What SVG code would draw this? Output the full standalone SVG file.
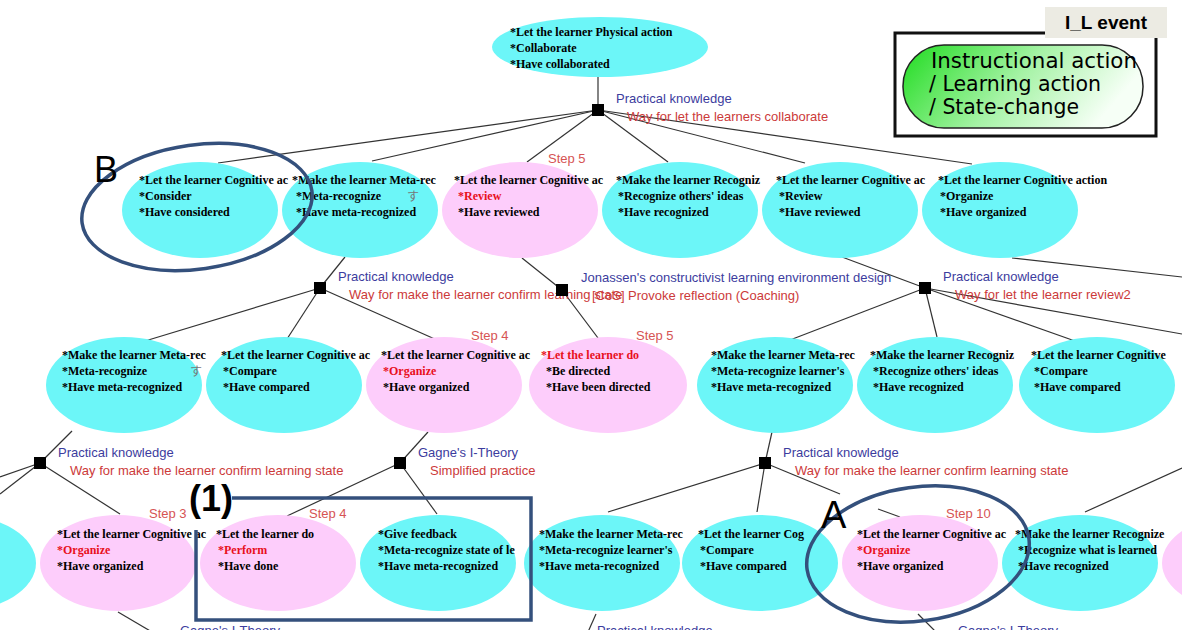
<svg xmlns="http://www.w3.org/2000/svg" width="1182" height="630" viewBox="0 0 1182 630">
  <defs>
    <linearGradient id="pillFill" x1="0" y1="0" x2="1" y2="0.3">
      <stop offset="0" stop-color="#1fdc1f"/>
      <stop offset="0.55" stop-color="#a6f3a6"/>
      <stop offset="1" stop-color="#f6fff6"/>
    </linearGradient>
    <style>
      .cy { fill: #6cf6f8; }
      .pk { fill: #fdcdfb; }
      .nt { font-family: "Liberation Serif", serif; font-weight: bold; font-size: 12px; fill: #000; }
      .hl { fill: #e8101c; }
      .gh { font-family: "Noto Sans CJK JP", sans-serif; font-size: 12px; fill: #777; }
      .jb { font-family: "Liberation Sans", sans-serif; font-size: 13px; fill: #3c3c9e; }
      .jr { font-family: "Liberation Sans", sans-serif; font-size: 13px; fill: #cc3a3a; }
      .st { font-family: "Liberation Sans", sans-serif; font-size: 13px; fill: #d65454; }
      .ln { stroke: #333; stroke-width: 1.2; fill: none; }
      .sq { fill: #000; }
      .mk { stroke: #34507c; stroke-width: 3.5; fill: none; }
      .big { font-family: "Liberation Sans", sans-serif; fill: #000; }
      .lg { font-family: "DejaVu Sans", sans-serif; font-size: 21px; fill: #000; }
    </style>
  </defs>

  <rect width="1182" height="630" fill="#fff"/>

  <!-- connectors -->
  <g id="connectors" class="ln">
    <line x1="598" y1="77" x2="598" y2="110"/>
    <line x1="598" y1="110" x2="218" y2="163"/>
    <line x1="598" y1="110" x2="372" y2="161"/>
    <line x1="598" y1="110" x2="527" y2="162"/>
    <line x1="598" y1="110" x2="668" y2="162"/>
    <line x1="598" y1="110" x2="805" y2="163"/>
    <line x1="598" y1="110" x2="972" y2="164"/>

    <line x1="345" y1="257" x2="320" y2="288"/>
    <line x1="320" y1="288" x2="145" y2="341"/>
    <line x1="320" y1="288" x2="287" y2="339"/>
    <line x1="320" y1="288" x2="437" y2="340"/>
    <line x1="522" y1="258" x2="562" y2="290"/>
    <line x1="562" y1="290" x2="598" y2="338"/>
    <line x1="842" y1="257" x2="925" y2="288"/>
    <line x1="925" y1="288" x2="1182" y2="334"/>
    <line x1="925" y1="288" x2="790" y2="340"/>
    <line x1="925" y1="288" x2="937" y2="337"/>
    <line x1="925" y1="288" x2="1075" y2="341"/>
    <line x1="1012" y1="258" x2="1182" y2="277"/>

    <line x1="40" y1="463" x2="72" y2="431"/>
    <line x1="40" y1="463" x2="0" y2="477"/>
    <line x1="40" y1="463" x2="0" y2="494"/>
    <line x1="40" y1="463" x2="120" y2="514"/>
    <line x1="400" y1="463" x2="428" y2="432"/>
    <line x1="400" y1="463" x2="287" y2="516"/>
    <line x1="400" y1="463" x2="437" y2="514"/>
    <line x1="765" y1="463" x2="772" y2="432"/>
    <line x1="765" y1="463" x2="608" y2="512"/>
    <line x1="765" y1="463" x2="757" y2="512"/>
    <line x1="765" y1="463" x2="840" y2="494"/>
    <line x1="878" y1="509" x2="900" y2="517"/>
    <line x1="1085" y1="512" x2="1182" y2="468"/>

    <line x1="118" y1="612" x2="152" y2="632"/>
    <line x1="596" y1="614" x2="588" y2="632"/>
    <line x1="918" y1="614" x2="936" y2="632"/>
  </g>

  <!-- top node -->
  <g id="n-top">
    <ellipse class="cy" cx="600" cy="47" rx="108" ry="30"/>
    <text class="nt" x="510" y="36">*Let the learner Physical action</text>
    <text class="nt" x="510" y="52">*Collaborate</text>
    <text class="nt" x="510" y="68">*Have collaborated</text>
  </g>

  <!-- row 1 (drawn right to left so overflowing first lines stay visible) -->
  <g id="n1f">
    <ellipse class="cy" cx="1000" cy="210" rx="78" ry="48"/>
    <text class="nt" x="938" y="184">*Let the learner Cognitive action</text>
    <text class="nt" x="940" y="200">*Organize</text>
    <text class="nt" x="940" y="216">*Have organized</text>
  </g>
  <g id="n1e">
    <ellipse class="cy" cx="840" cy="210" rx="78" ry="48"/>
    <text class="nt" x="776" y="184">*Let the learner Cognitive ac</text>
    <text class="nt" x="779" y="200">*Review</text>
    <text class="nt" x="779" y="216">*Have reviewed</text>
  </g>
  <g id="n1d">
    <ellipse class="cy" cx="680" cy="210" rx="78" ry="48"/>
    <text class="nt" x="616" y="184">*Make the learner Recogniz</text>
    <text class="nt" x="618" y="200">*Recognize others' ideas</text>
    <text class="nt" x="618" y="216">*Have recognized</text>
  </g>
  <g id="n1c">
    <ellipse class="pk" cx="520" cy="210" rx="78" ry="48"/>
    <text class="nt" x="454" y="184">*Let the learner Cognitive ac</text>
    <text class="nt hl" x="458" y="200">*Review</text>
    <text class="nt" x="458" y="216">*Have reviewed</text>
  </g>
  <g id="n1b">
    <ellipse class="cy" cx="360" cy="210" rx="78" ry="48"/>
    <text class="nt" x="292" y="184">*Make the learner Meta-rec</text>
    <text class="nt" x="296" y="200">*Meta-recognize</text>
    <text class="nt" x="296" y="216">*Have meta-recognized</text>
    <text class="gh" x="407" y="201">す</text>
  </g>
  <g id="n1a">
    <ellipse class="cy" cx="200" cy="210" rx="78" ry="48"/>
    <text class="nt" x="139" y="184">*Let the learner Cognitive ac</text>
    <text class="nt" x="139" y="200">*Consider</text>
    <text class="nt" x="139" y="216">*Have considered</text>
  </g>

  <!-- row 2 -->
  <g id="n2g">
    <ellipse class="cy" cx="1097" cy="385" rx="78" ry="48"/>
    <text class="nt" x="1031" y="359">*Let the learner Cognitive</text>
    <text class="nt" x="1034" y="375">*Compare</text>
    <text class="nt" x="1034" y="391">*Have compared</text>
  </g>
  <g id="n2f">
    <ellipse class="cy" cx="935" cy="385" rx="78" ry="48"/>
    <text class="nt" x="870" y="359">*Make the learner Recogniz</text>
    <text class="nt" x="873" y="375">*Recognize others' ideas</text>
    <text class="nt" x="873" y="391">*Have recognized</text>
  </g>
  <g id="n2e">
    <ellipse class="cy" cx="775" cy="385" rx="78" ry="48"/>
    <text class="nt" x="711" y="359">*Make the learner Meta-rec</text>
    <text class="nt" x="711" y="375">*Meta-recognize learner's</text>
    <text class="nt" x="711" y="391">*Have meta-recognized</text>
  </g>
  <g id="n2d">
    <ellipse class="pk" cx="608" cy="385" rx="79" ry="48"/>
    <text class="nt hl" x="541" y="359">*Let the learner do</text>
    <text class="nt" x="546" y="375">*Be directed</text>
    <text class="nt" x="546" y="391">*Have been directed</text>
  </g>
  <g id="n2c">
    <ellipse class="pk" cx="444" cy="385" rx="78" ry="48"/>
    <text class="nt" x="381" y="359">*Let the learner Cognitive ac</text>
    <text class="nt hl" x="383" y="375">*Organize</text>
    <text class="nt" x="383" y="391">*Have organized</text>
  </g>
  <g id="n2b">
    <ellipse class="cy" cx="284" cy="385" rx="78" ry="48"/>
    <text class="nt" x="221" y="359">*Let the learner Cognitive ac</text>
    <text class="nt" x="223" y="375">*Compare</text>
    <text class="nt" x="223" y="391">*Have compared</text>
  </g>
  <g id="n2a">
    <ellipse class="cy" cx="124" cy="385" rx="78" ry="48"/>
    <text class="nt" x="62" y="359">*Make the learner Meta-rec</text>
    <text class="nt" x="62" y="375">*Meta-recognize</text>
    <text class="nt" x="62" y="391">*Have meta-recognized</text>
    <text class="gh" x="190" y="376">す</text>
  </g>

  <!-- row 3 -->
  <g id="n3h">
    <ellipse class="pk" cx="1240" cy="563" rx="78" ry="48"/>
  </g>
  <g id="n3g">
    <ellipse class="cy" cx="1080" cy="563" rx="78" ry="48"/>
    <text class="nt" x="1015" y="538">*Make the learner Recognize</text>
    <text class="nt" x="1018" y="554">*Recognize what is learned</text>
    <text class="nt" x="1018" y="570">*Have recognized</text>
  </g>
  <g id="n3f">
    <ellipse class="pk" cx="920" cy="563" rx="78" ry="48"/>
    <text class="nt" x="857" y="538">*Let the learner Cognitive ac</text>
    <text class="nt hl" x="857" y="554">*Organize</text>
    <text class="nt" x="857" y="570">*Have organized</text>
  </g>
  <g id="n3e">
    <ellipse class="cy" cx="760" cy="563" rx="78" ry="48"/>
    <text class="nt" x="698" y="538">*Let the learner Cog</text>
    <text class="nt" x="700" y="554">*Compare</text>
    <text class="nt" x="700" y="570">*Have compared</text>
  </g>
  <g id="n3d">
    <ellipse class="cy" cx="602" cy="563" rx="78" ry="48"/>
    <text class="nt" x="539" y="538">*Make the learner Meta-rec</text>
    <text class="nt" x="539" y="554">*Meta-recognize learner's</text>
    <text class="nt" x="539" y="570">*Have meta-recognized</text>
  </g>
  <g id="n3c">
    <ellipse class="cy" cx="438" cy="563" rx="78" ry="48"/>
    <text class="nt" x="378" y="538">*Give feedback</text>
    <text class="nt" x="378" y="554">*Meta-recognize state of le</text>
    <text class="nt" x="378" y="570">*Have meta-recognized</text>
  </g>
  <g id="n3b">
    <ellipse class="pk" cx="278" cy="563" rx="78" ry="48"/>
    <text class="nt" x="216" y="538">*Let the learner do</text>
    <text class="nt hl" x="218" y="554">*Perform</text>
    <text class="nt" x="218" y="570">*Have done</text>
  </g>
  <g id="n3a">
    <ellipse class="pk" cx="118" cy="563" rx="78" ry="48"/>
    <text class="nt" x="57" y="538">*Let the learner Cognitive ac</text>
    <text class="nt hl" x="57" y="554">*Organize</text>
    <text class="nt" x="57" y="570">*Have organized</text>
  </g>
  <g id="n3-left">
    <ellipse class="cy" cx="-42" cy="563" rx="78" ry="48"/>
  </g>

  <!-- junctions with their method labels -->
  <g id="j-top">
    <rect class="sq" x="592" y="104" width="12" height="12"/>
    <text class="jb" x="616" y="103">Practical knowledge</text>
    <text class="jr" x="627" y="121">Way for let the learners collaborate</text>
  </g>
  <g id="j-a">
    <rect class="sq" x="314" y="282" width="12" height="12"/>
    <text class="jb" x="338" y="281">Practical knowledge</text>
    <text class="jr" x="349" y="299">Way for make the learner confirm learning state</text>
  </g>
  <g id="j-b">
    <rect class="sq" x="556" y="284" width="12" height="12"/>
    <text class="jb" x="581" y="282">Jonassen's constructivist learning environment design</text>
    <text class="jr" x="592" y="300">[CoS] Provoke reflection (Coaching)</text>
  </g>
  <g id="j-c">
    <rect class="sq" x="919" y="282" width="12" height="12"/>
    <text class="jb" x="943" y="281">Practical knowledge</text>
    <text class="jr" x="955" y="299">Way for let the learner review2</text>
  </g>
  <g id="j-d">
    <rect class="sq" x="34" y="457" width="12" height="12"/>
    <text class="jb" x="58" y="457">Practical knowledge</text>
    <text class="jr" x="70" y="475">Way for make the learner confirm learning state</text>
  </g>
  <g id="j-e">
    <rect class="sq" x="394" y="457" width="12" height="12"/>
    <text class="jb" x="418" y="457">Gagne's I-Theory</text>
    <text class="jr" x="430" y="475">Simplified practice</text>
  </g>
  <g id="j-f">
    <rect class="sq" x="759" y="457" width="12" height="12"/>
    <text class="jb" x="783" y="457">Practical knowledge</text>
    <text class="jr" x="795" y="475">Way for make the learner confirm learning state</text>
  </g>
  <g id="j-bottom">
    <text class="jb" x="180" y="635">Gagne's I-Theory</text>
    <text class="jb" x="597" y="635">Practical knowledge</text>
    <text class="jb" x="958" y="635">Gagne's I-Theory</text>
  </g>

  <!-- step labels -->
  <g id="steps" class="st">
    <text x="548" y="163">Step 5</text>
    <text x="471" y="340">Step 4</text>
    <text x="636" y="340">Step 5</text>
    <text x="149" y="518">Step 3</text>
    <text x="309" y="518">Step 4</text>
    <text x="946" y="518">Step 10</text>
  </g>

  <!-- highlight marks -->
  <g id="mark-b">
    <ellipse class="mk" cx="197" cy="207" rx="116" ry="62" transform="rotate(-8 197 207)"/>
    <text class="big" x="94" y="182" font-size="36">B</text>
  </g>
  <g id="mark-a">
    <ellipse class="mk" cx="918" cy="554" rx="112" ry="67" transform="rotate(-8 918 554)"/>
    <text class="big" x="821" y="528" font-size="38">A</text>
  </g>
  <g id="mark-1">
    <path class="mk" d="M232,498 H531 V620 H196 V530"/>
    <text class="big" x="189" y="511" font-size="36" font-weight="bold">(1)</text>
  </g>

  <!-- legend -->
  <g id="legend">
    <rect x="895" y="33" width="261" height="103" fill="#fff" stroke="#111" stroke-width="3"/>
    <rect x="1045" y="7" width="122" height="31" fill="#ecebe3"/>
    <text x="1106" y="29" text-anchor="middle" font-family="Liberation Sans, sans-serif" font-weight="bold" font-size="19">I_L event</text>
    <rect x="903" y="45" width="240" height="83" rx="41" ry="41" fill="url(#pillFill)" stroke="#222" stroke-width="1.5"/>
    <text class="lg" x="931" y="68" textLength="206" lengthAdjust="spacingAndGlyphs">Instructional action</text>
    <text class="lg" x="929" y="91" textLength="172" lengthAdjust="spacingAndGlyphs">/ Learning action</text>
    <text class="lg" x="929" y="114" textLength="150" lengthAdjust="spacingAndGlyphs">/ State-change</text>
  </g>
</svg>
